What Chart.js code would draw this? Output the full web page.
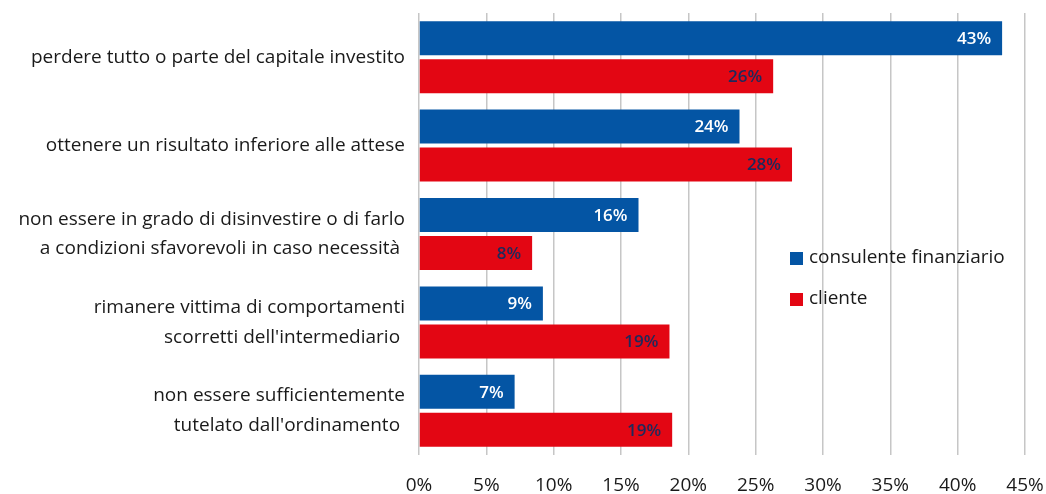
<!DOCTYPE html>
<html>
<head>
<meta charset="utf-8">
<script src="https://cdn.jsdelivr.net/npm/chart.js@4/dist/chart.umd.min.js"></script>
<style>
  html, body { margin: 0; padding: 0; background: #fff; }
  #box { width: 1046px; height: 494px; }
</style>
</head>
<body>
<div id="box"><canvas id="grafico"></canvas></div>
<script>
// ************************* DATI *************************
const categorie = [
  "perdere tutto o parte del capitale investito",
  "ottenere un risultato inferiore alle attese",
  ["non essere in grado di disinvestire o di farlo", "a condizioni sfavorevoli in caso necessità "],
  ["rimanere vittima di comportamenti", "scorretti dell'intermediario "],
  ["non essere sufficientemente", "tutelato dall'ordinamento "],
];
const consulente = [43.3, 23.8, 16.3, 9.2, 7.1];
const cliente = [26.3, 27.7, 8.4, 18.6, 18.8];
const tickValori = [0, 5, 10, 15, 20, 25, 30, 35, 40, 45];

const BLU = "#0455a4";
const ROSSO = "#e30613";
const FONT = "'Open Sans', 'Liberation Sans', sans-serif";

// ************************* ETICHETTE SULLE BARRE *************************
const etichette = {
  id: "etichette",
  afterDatasetsDraw(chart) {
    const ctx = chart.ctx;
    ctx.save();
    ctx.font = "600 17px " + FONT;
    ctx.textAlign = "right";
    ctx.textBaseline = "middle";
    chart.data.datasets.forEach(function (ds, i) {
      chart.getDatasetMeta(i).data.forEach(function (bar, j) {
        ctx.fillStyle = i === 0 ? "#ffffff" : "#1d2a5c";
        ctx.fillText(Math.round(ds.data[j]) + "%", bar.x - 11, bar.y + 1);
      });
    });
    ctx.restore();
  },
};

// ************************* LEGENDA INTERNA *************************
const legenda = {
  id: "legenda",
  afterDraw(chart) {
    const ctx = chart.ctx;
    const area = chart.chartArea;
    const x = area.left + 371;
    let y = area.top + 245;
    ctx.save();
    ctx.font = "19px " + FONT;
    ctx.textBaseline = "middle";
    ctx.textAlign = "left";
    chart.data.datasets.forEach(function (ds) {
      ctx.fillStyle = ds.backgroundColor;
      ctx.fillRect(x, y - 6, 13, 13);
      ctx.fillStyle = "#1a1a1a";
      ctx.fillText(ds.label, x + 19, y);
      y += 41;
    });
    ctx.restore();
  },
};

new Chart(document.getElementById("grafico"), {
  type: "bar",
  data: {
    labels: categorie,
    datasets: [
      { label: "consulente finanziario", data: consulente, backgroundColor: BLU },
      { label: "cliente", data: cliente, backgroundColor: ROSSO },
    ],
  },
  options: {
    indexAxis: "y",
    responsive: true,
    maintainAspectRatio: false,
    animation: false,
    categoryPercentage: 0.86,
    barPercentage: 0.895,
    layout: { padding: { top: 13, right: 21, left: 0, bottom: 0 } },
    plugins: { legend: { display: false }, tooltip: { enabled: false } },
    scales: {
      x: {
        min: 0,
        max: 45,
        afterBuildTicks(scale) {
          scale.ticks = tickValori.map(function (v) { return { value: v }; });
        },
        afterFit(scale) {
          scale.height = 39;
          scale.paddingLeft = 0;
          scale.paddingRight = 0;
        },
        grid: { color: "#c6c6c6", lineWidth: 1.5, drawTicks: false },
        border: { display: false },
        ticks: {
          padding: 19,
          color: "#1a1a1a",
          font: { family: FONT, size: 19 },
          callback: function (v) { return v + "%"; },
        },
      },
      y: {
        afterFit(scale) {
          scale.width = 419;
          scale.paddingTop = 0;
          scale.paddingBottom = 0;
        },
        grid: { display: false, drawTicks: false },
        border: { display: false },
        ticks: {
          padding: 14,
          color: "#1a1a1a",
          font: { family: FONT, size: 19, lineHeight: 1.55 },
        },
      },
    },
  },
  plugins: [etichette, legenda],
});
</script>
</body>
</html>
